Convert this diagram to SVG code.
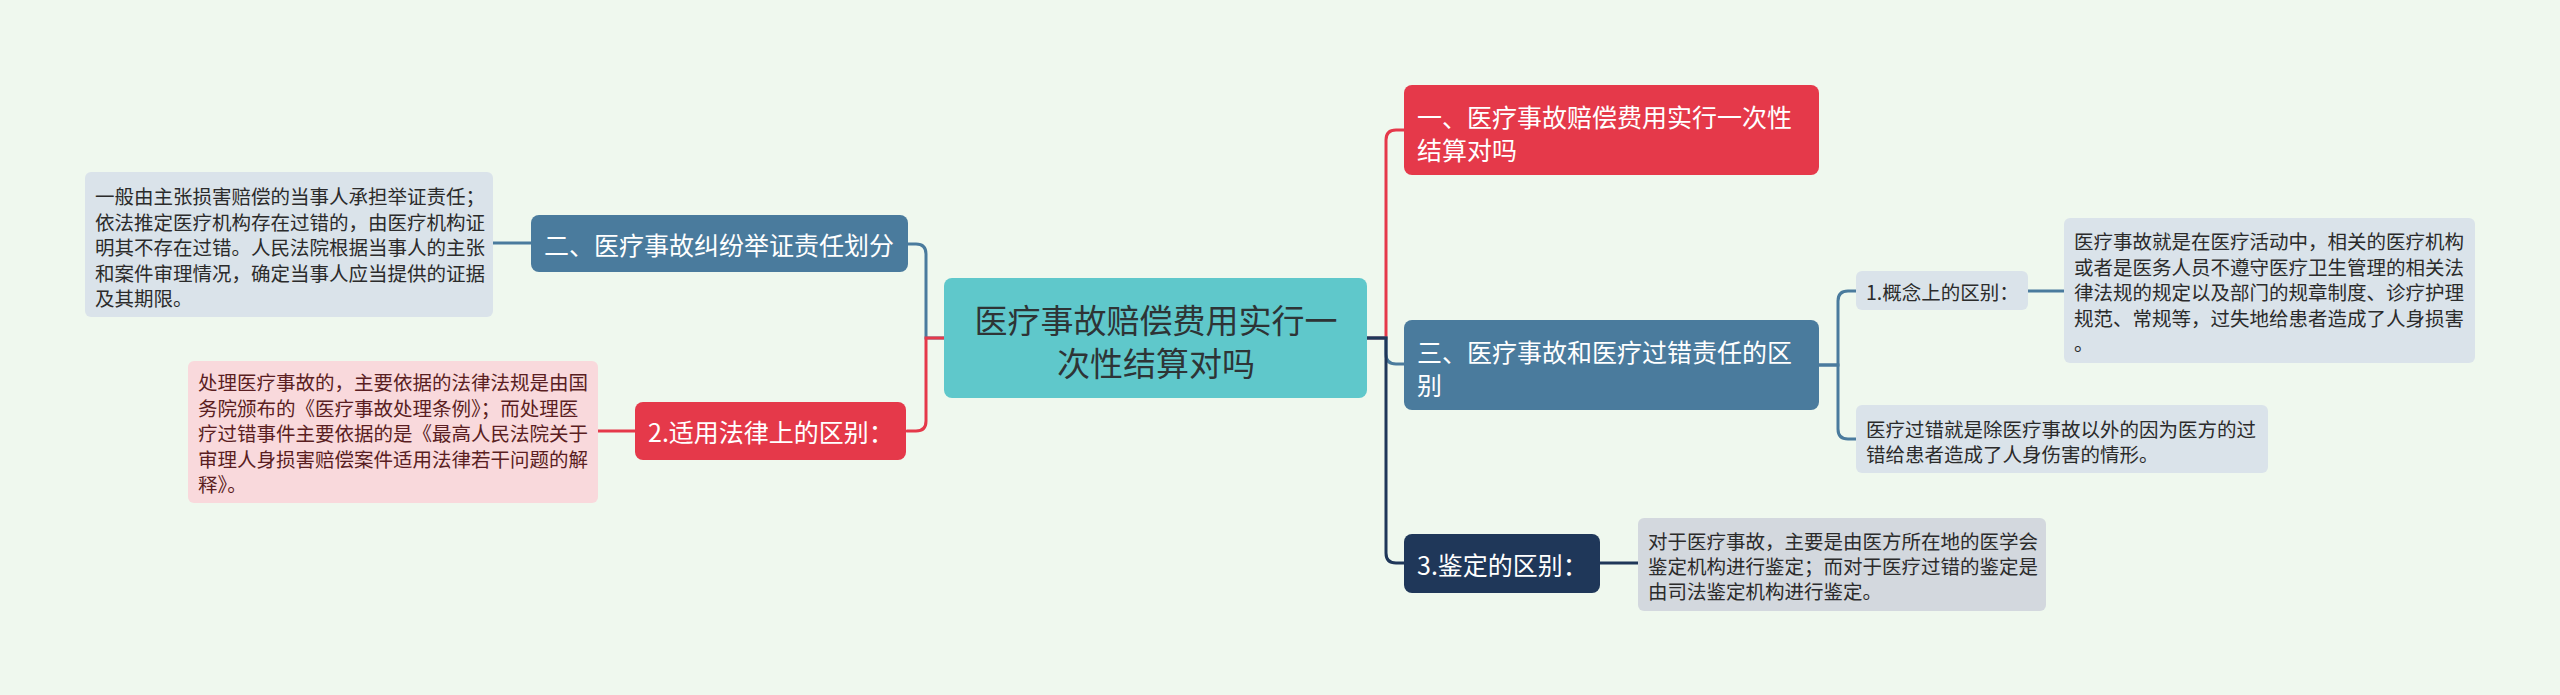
<svg xmlns="http://www.w3.org/2000/svg" width="2560" height="695" viewBox="0 0 2560 695">
<style>
text{font-family:"Noto Sans CJK SC","Noto Sans",sans-serif;dominant-baseline:central}
.main{font-size:25px;fill:#ffffff}
.desc{font-size:19.5px;fill:#2b2b2b}
.pink{font-size:19.5px;fill:#5a1e22}
.root{font-size:33px;fill:#2e3436;text-anchor:middle}
.c{fill:none;stroke-width:3;stroke-linecap:round}
.red{stroke:#e5394a}.blue{stroke:#4a7b9d}.navy{stroke:#1f3759}
</style>
<rect width="2560" height="695" fill="#eff8ee"/>
<g id="connectors">
<path class="c blue" d="M944,338 H926 V254 Q926,244 916,244 H907"/>
<path class="c red" d="M944,338 H926 V421 Q926,431 916,431 H907"/>
<path class="c red" d="M1367,338 H1386 V140 Q1386,130 1396,130 H1404"/>
<path class="c blue" d="M1367,338 H1386 V354 Q1386,364 1396,364 H1404"/>
<path class="c navy" d="M1367,338 H1386 V553 Q1386,563 1396,563 H1404"/>
<path class="c blue" d="M1819,365 H1838 V301 Q1838,291 1848,291 H1857"/>
<path class="c blue" d="M1819,365 H1838 V429 Q1838,439 1848,439 H1857"/>
<path class="c blue" d="M493,243 H531"/>
<path class="c red" d="M598,431 H636"/>
<path class="c blue" d="M2028,291 H2064"/>
<path class="c navy" d="M1600,563 H1638"/>
</g>
<g id="root">
<rect x="944" y="278" width="423" height="120" rx="8" fill="#5fc8cb"/>
<text class="root"><tspan x="1156" y="318.5">医疗事故赔偿费用实行一</tspan><tspan x="1156" y="361.5">次性结算对吗</tspan></text>
</g>
<g id="n1">
<rect x="1404" y="85" width="415" height="90" rx="8" fill="#e5394a"/>
<text class="main"><tspan x="1417" y="115.5">一、医疗事故赔偿费用实行一次性</tspan><tspan x="1417" y="148.5">结算对吗</tspan></text>
</g>
<g id="n3">
<rect x="1404" y="320" width="415" height="90" rx="8" fill="#4a7b9d"/>
<text class="main"><tspan x="1417" y="350.5">三、医疗事故和医疗过错责任的区</tspan><tspan x="1417" y="383.5">别</tspan></text>
</g>
<g id="n3-1">
<rect x="1856" y="271" width="172" height="39" rx="6" fill="#dae3ea"/>
<text class="desc" x="1866" y="291">1.概念上的区别：</text>
</g>
<g id="n3-1-d">
<rect x="2064" y="218" width="411" height="145" rx="6" fill="#dae3ea"/>
<text class="desc"><tspan x="2074" y="240">医疗事故就是在医疗活动中，相关的医疗机构</tspan><tspan x="2074" y="265.5">或者是医务人员不遵守医疗卫生管理的相关法</tspan><tspan x="2074" y="291">律法规的规定以及部门的规章制度、诊疗护理</tspan><tspan x="2074" y="316.5">规范、常规等，过失地给患者造成了人身损害</tspan><tspan x="2074" y="342">。</tspan></text>
</g>
<g id="n3-2">
<rect x="1856" y="405" width="412" height="68" rx="6" fill="#dae3ea"/>
<text class="desc"><tspan x="1866" y="428">医疗过错就是除医疗事故以外的因为医方的过</tspan><tspan x="1866" y="453">错给患者造成了人身伤害的情形。</tspan></text>
</g>
<g id="n4">
<rect x="1404" y="534" width="196" height="59" rx="8" fill="#1f3759"/>
<text class="main" x="1417" y="563.5">3.鉴定的区别：</text>
</g>
<g id="n4-d">
<rect x="1638" y="518" width="408" height="93" rx="6" fill="#d3d8de"/>
<text class="desc"><tspan x="1648" y="539.5">对于医疗事故，主要是由医方所在地的医学会</tspan><tspan x="1648" y="564.5">鉴定机构进行鉴定；而对于医疗过错的鉴定是</tspan><tspan x="1648" y="589.5">由司法鉴定机构进行鉴定。</tspan></text>
</g>
<g id="n2">
<rect x="531" y="215" width="377" height="57" rx="8" fill="#4a7b9d"/>
<text class="main" x="544" y="243.5">二、医疗事故纠纷举证责任划分</text>
</g>
<g id="n2-d">
<rect x="85" y="172" width="408" height="145" rx="6" fill="#dae3ea"/>
<text class="desc"><tspan x="95" y="195">一般由主张损害赔偿的当事人承担举证责任；</tspan><tspan x="95" y="220.5">依法推定医疗机构存在过错的，由医疗机构证</tspan><tspan x="95" y="246">明其不存在过错。人民法院根据当事人的主张</tspan><tspan x="95" y="271.5">和案件审理情况，确定当事人应当提供的证据</tspan><tspan x="95" y="297">及其期限。</tspan></text>
</g>
<g id="n5">
<rect x="635" y="402" width="271" height="58" rx="8" fill="#e5394a"/>
<text class="main" x="648" y="431">2.适用法律上的区别：</text>
</g>
<g id="n5-d">
<rect x="188" y="361" width="410" height="142" rx="6" fill="#f9d9dc"/>
<text class="pink"><tspan x="198" y="381">处理医疗事故的，主要依据的法律法规是由国</tspan><tspan x="198" y="406.5">务院颁布的《医疗事故处理条例》；而处理医</tspan><tspan x="198" y="432">疗过错事件主要依据的是《最高人民法院关于</tspan><tspan x="198" y="457.5">审理人身损害赔偿案件适用法律若干问题的解</tspan><tspan x="198" y="483">释》。</tspan></text>
</g>
</svg>
